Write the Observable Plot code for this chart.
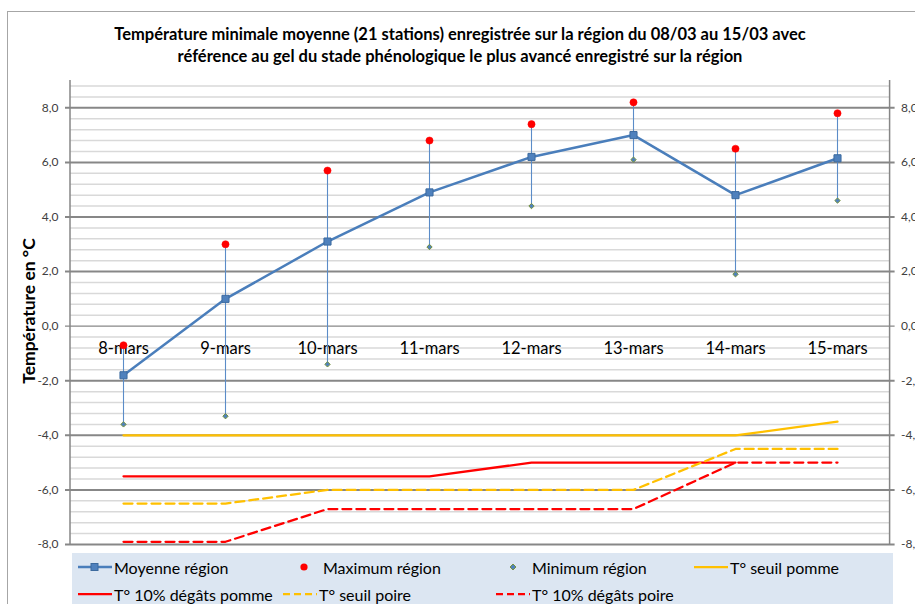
<!DOCTYPE html>
<html>
<head>
<meta charset="utf-8">
<script src="https://cdn.jsdelivr.net/npm/d3@7"></script>
<script src="https://cdn.jsdelivr.net/npm/@observablehq/plot@0.6"></script>
<style>
  html, body { margin: 0; padding: 0; background: #fff; }
  #wrap { position: relative; width: 915px; height: 604px; overflow: hidden; font-family: Lato, "Open Sans", sans-serif; }
  #border { position: absolute; left: 7px; top: 11px; width: 920px; height: 600px; border-left: 1px solid #a6a6a6; border-top: 1px solid #a6a6a6; }
  #title { position: absolute; left: 0; width: 920px; top: 23px; text-align: center; font-weight: bold; font-size: 16.5px; line-height: 22px; color: #000; }
  #ytitle { position: absolute; left: 28px; top: 311px; transform: translate(-50%, -50%) rotate(-90deg); white-space: nowrap; font-weight: bold; font-size: 17.5px; color: #000; }
  #chart { position: absolute; left: 0; top: 0; }
  #legend { position: absolute; left: 72px; top: 553px; width: 821px; height: 60px; background: #dce6f2; }
  .li { position: absolute; display: flex; align-items: center; font-size: 16px; color: #000; white-space: nowrap; }
  .li svg { display: block; }
</style>
</head>
<body>
<div id="wrap">
  <div id="border"></div>
  <div id="chart"></div>
  <div id="title">Température minimale moyenne (21 stations) enregistrée sur la région du 08/03 au 15/03 avec<br>référence au gel du stade phénologique le plus avancé enregistré sur la région</div>
  <div id="ytitle">Température en °C</div>
  <div id="legend"></div>
</div>
<script>
// ---- data ----
const categories = ["8-mars", "9-mars", "10-mars", "11-mars", "12-mars", "13-mars", "14-mars", "15-mars"];
const moyenne   = [-1.8, 1.0, 3.1, 4.9, 6.2, 7.0, 4.8, 6.15];
const maximum   = [-0.7, 3.0, 5.7, 6.8, 7.4, 8.2, 6.5, 7.8];
const minimum   = [-3.6, -3.3, -1.4, 2.9, 4.4, 6.1, 1.9, 4.6];
const seuilPomme  = [-4, -4, -4, -4, -4, -4, -4, -3.5];
const degatsPomme = [-5.5, -5.5, -5.5, -5.5, -5, -5, -5, null];
const seuilPoire  = [-6.5, -6.5, -6, -6, -6, -6, -4.5, -4.5];
const degatsPoire = [-7.9, -7.9, -6.7, -6.7, -6.7, -6.7, -5, -5];
const majorTicks = [-8, -6, -4, -2, 0, 2, 4, 6, 8];
const minorTicks = d3.range(-8, 8.81, 0.4).map(v => Math.round(v * 10) / 10).filter(v => !majorTicks.includes(v));
const legendLabels = ["Moyenne région", "Maximum région", "Minimum région", "T° seuil pomme",
                      "T° 10% dégâts pomme", "T° seuil poire", "T° 10% dégâts poire"];

const rows = categories.map((c, i) => ({
  cat: c, moyenne: moyenne[i], max: maximum[i], min: minimum[i],
  seuilPomme: seuilPomme[i], degatsPomme: degatsPomme[i], seuilPoire: seuilPoire[i], degatsPoire: degatsPoire[i]
}));

const fmt = d => d.toFixed(1).replace(".", ",");
const BLUE = "#4f81bd", RED = "#ff0000", ORANGE = "#ffc000";

function axisLines(index, scales, values, dims) {
  const g = d3.create("svg:g").attr("stroke", "#868686").attr("stroke-width", 1.5);
  const y1 = dims.marginTop, y2 = dims.height - dims.marginBottom;
  g.append("line").attr("x1", dims.marginLeft).attr("x2", dims.marginLeft).attr("y1", y1).attr("y2", y2);
  g.append("line").attr("x1", dims.width - dims.marginRight).attr("x2", dims.width - dims.marginRight).attr("y1", y1).attr("y2", y2);
  return g.node();
}

const plot = Plot.plot({
  width: 915,
  height: 604,
  marginLeft: 70,
  marginRight: 25.4,
  marginTop: 80,
  marginBottom: 60,
  style: { fontFamily: "Lato, 'Open Sans', sans-serif", background: "transparent", overflow: "visible" },
  x: { type: "point", domain: categories, padding: 0.5, axis: null },
  y: { domain: [-8, 9], axis: null },
  marks: [
    Plot.ruleY(minorTicks, { stroke: "#d9d9d9", strokeWidth: 1.5 }),
    Plot.ruleY(majorTicks.filter(d => d !== 0), { stroke: "#878787", strokeWidth: 2, insetLeft: -5, insetRight: -5 }),
    Plot.ruleY([0], { stroke: "#878787", strokeWidth: 1.2, insetLeft: -5, insetRight: -5 }),
    axisLines,
    Plot.text(majorTicks, { y: d => d, frameAnchor: "left", textAnchor: "end", dx: -12, text: fmt, fontSize: 12, fill: "#404040" }),
    Plot.text(majorTicks, { y: d => d, frameAnchor: "right", textAnchor: "start", dx: 11, text: fmt, fontSize: 12, fill: "#404040" }),
    Plot.text(categories, { x: d => d, y: 0, dy: 23, text: d => d, fontSize: 16.5, fill: "#000" }),
    Plot.line(rows, { x: "cat", y: "seuilPomme", stroke: ORANGE, strokeWidth: 2.25 }),
    Plot.line(rows, { x: "cat", y: "degatsPomme", stroke: RED, strokeWidth: 2.25 }),
    Plot.line(rows, { x: "cat", y: "seuilPoire", stroke: ORANGE, strokeWidth: 2.25, strokeDasharray: "9,5" }),
    Plot.line(rows, { x: "cat", y: "degatsPoire", stroke: RED, strokeWidth: 2.25, strokeDasharray: "9,5" }),
    Plot.ruleX(rows, { x: "cat", y1: "max", y2: "min", stroke: "#5b8cc8", strokeWidth: 1.1 }),
    Plot.line(rows, { x: "cat", y: "moyenne", stroke: "#4a7ebb", strokeWidth: 2.5 }),
    Plot.dot(rows, { x: "cat", y: "moyenne", symbol: "square", r: 4, fill: BLUE, stroke: "#3c6a9e", strokeWidth: 1 }),
    Plot.dot(rows, { x: "cat", y: "max", r: 3.6, fill: RED, stroke: RED, strokeWidth: 0.5 }),
    Plot.dot(rows, { x: "cat", y: "min", symbol: "diamond2", r: 2.4, fill: "#4f81bd", stroke: "#77933c", strokeWidth: 1 })
  ]
});
document.getElementById("chart").appendChild(plot);

// ---- legend ----
const sw = {
  moyenne: `<svg width="34" height="12"><line x1="0" x2="34" y1="6" y2="6" stroke="#4a7ebb" stroke-width="2.5"/><rect x="13" y="2.5" width="7" height="7" fill="${BLUE}" stroke="#3c6a9e" stroke-width="1"/></svg>`,
  max: `<svg width="34" height="12"><circle cx="17" cy="6" r="3.6" fill="${RED}"/></svg>`,
  min: `<svg width="34" height="12"><path d="M17 3 L20 6 L17 9 L14 6 Z" fill="${BLUE}" stroke="#77933c" stroke-width="1"/></svg>`,
  seuilPomme: `<svg width="34" height="12"><line x1="0" x2="34" y1="6" y2="6" stroke="${ORANGE}" stroke-width="2.25"/></svg>`,
  degatsPomme: `<svg width="34" height="12"><line x1="0" x2="34" y1="6" y2="6" stroke="${RED}" stroke-width="2.25"/></svg>`,
  seuilPoire: `<svg width="34" height="12"><line x1="0" x2="34" y1="6" y2="6" stroke="${ORANGE}" stroke-width="2.25" stroke-dasharray="7,4"/></svg>`,
  degatsPoire: `<svg width="34" height="12"><line x1="0" x2="34" y1="6" y2="6" stroke="${RED}" stroke-width="2.25" stroke-dasharray="7,4"/></svg>`
};
const legendItems = [
  { key: "moyenne", x: 78, y: 567 },
  { key: "max", x: 287, y: 567 },
  { key: "min", x: 496, y: 567 },
  { key: "seuilPomme", x: 694, y: 567 },
  { key: "degatsPomme", x: 78, y: 594 },
  { key: "seuilPoire", x: 283, y: 594 },
  { key: "degatsPoire", x: 496, y: 594 }
];
const leg = document.getElementById("legend");
legendItems.forEach((it, i) => {
  const d = document.createElement("div");
  d.className = "li";
  d.style.left = (it.x - 72) + "px";
  d.style.top = (it.y - 553 - 10) + "px";
  d.style.height = "20px";
  d.innerHTML = sw[it.key] + `<span style="margin-left:2px">${legendLabels[i]}</span>`;
  leg.appendChild(d);
});
</script>
</body>
</html>
